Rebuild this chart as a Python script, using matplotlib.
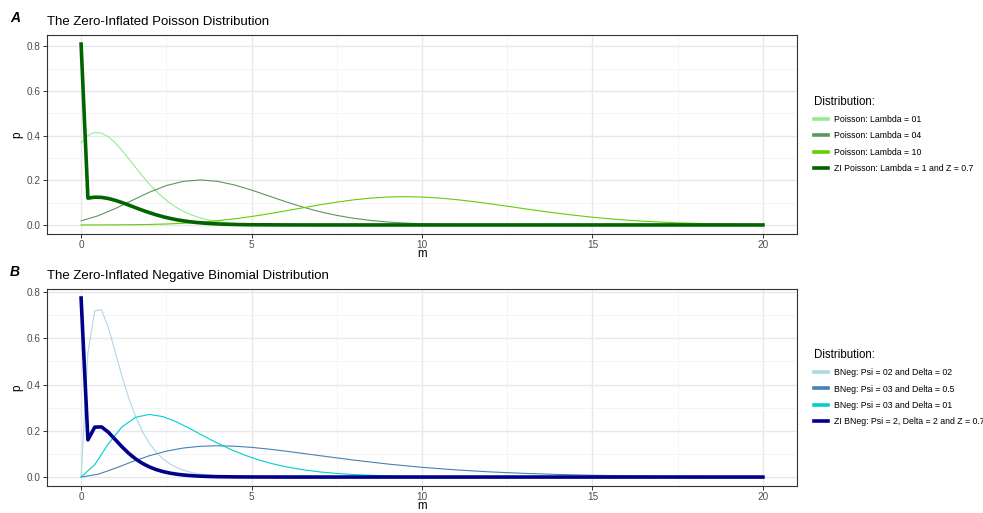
import matplotlib
matplotlib.use("Agg")
import matplotlib.pyplot as plt
from matplotlib.lines import Line2D
from matplotlib.ticker import MultipleLocator

plt.rcParams['font.family'] = ['Liberation Sans', 'DejaVu Sans']

# ---- panel A: Poisson ----
m_fine = [0, 0.2, 0.4, 0.6, 0.8, 1.0, 1.2, 1.4, 1.6, 1.8, 2.0, 2.2, 2.4, 2.6, 2.8,
          3.0, 3.2, 3.4, 3.6, 3.8, 4.0, 4.2, 4.4, 4.6, 4.8, 5, 6, 7, 20]
pois_l1 = [0.3679, 0.4007, 0.4146, 0.4117, 0.3950, 0.3679, 0.3339, 0.2962, 0.2573,
           0.2194, 0.1839, 0.1518, 0.1234, 0.0990, 0.0784, 0.0613, 0.0474, 0.0363,
           0.0275, 0.0206, 0.0153, 0.0113, 0.0082, 0.0060, 0.0043, 0.0031, 0.0005,
           0.0001, 0.0]
zip_l1 = [0.8104, 0.1202, 0.1244, 0.1235, 0.1185, 0.1104, 0.1002, 0.0889, 0.0772,
          0.0658, 0.0552, 0.0455, 0.0370, 0.0297, 0.0235, 0.0184, 0.0142, 0.0109,
          0.0083, 0.0062, 0.0046, 0.0034, 0.0025, 0.0018, 0.0013, 0.0009, 0.0002,
          0.0, 0.0]

m_half = [0, 0.5, 1, 1.5, 2, 2.5, 3, 3.5, 4, 4.5, 5, 5.5, 6, 6.5, 7, 7.5, 8, 8.5,
          9, 9.5, 10, 10.5, 11, 11.5, 12, 12.5, 13, 13.5, 14, 14.5, 15, 15.5, 16,
          16.5, 17, 17.5, 18, 18.5, 19, 19.5, 20]
pois_l4 = [0.0183, 0.0413, 0.0733, 0.1102, 0.1465, 0.1764, 0.1954, 0.2016, 0.1954,
           0.1792, 0.1563, 0.1303, 0.1042, 0.0802, 0.0595, 0.0428, 0.0298, 0.0201,
           0.0132, 0.0085, 0.0053, 0.0033, 0.0019, 0.0011, 0.0006, 0.0004, 0.0002,
           0.0001, 0.0001, 0.0, 0.0, 0.0, 0.0, 0.0, 0.0, 0.0, 0.0, 0.0, 0.0, 0.0, 0.0]
pois_l10 = [0.0000, 0.0002, 0.0005, 0.0011, 0.0023, 0.0043, 0.0076, 0.0123, 0.0189,
            0.0274, 0.0378, 0.0499, 0.0631, 0.0767, 0.0901, 0.1023, 0.1126, 0.1204,
            0.1251, 0.1267, 0.1251, 0.1207, 0.1137, 0.1049, 0.0948, 0.0839, 0.0729,
            0.0622, 0.0521, 0.0429, 0.0347, 0.0277, 0.0217, 0.0168, 0.0128, 0.0096,
            0.0071, 0.0052, 0.0037, 0.0027, 0.0019]

# ---- panel B: negative binomial ----
m_nb = [0, 0.2, 0.4, 0.6, 0.8, 1.0, 1.2, 1.4, 1.6, 1.8, 2.0, 2.2, 2.4, 2.6, 2.8,
        3.0, 3.2, 3.4, 3.6, 3.8, 4.0, 4.5, 5, 6, 20]
nb_2_2 = [0.0, 0.5363, 0.7189, 0.7229, 0.6461, 0.5413, 0.4354, 0.3405, 0.2609,
          0.1967, 0.1465, 0.1080, 0.0790, 0.0574, 0.0414, 0.0297, 0.0213, 0.0151,
          0.0108, 0.0076, 0.0054, 0.0022, 0.0009, 0.0001, 0.0]
zinb = [0.774, 0.1609, 0.2157, 0.2169, 0.1938, 0.1624, 0.1306, 0.1022, 0.0783,
        0.0590, 0.0440, 0.0324, 0.0237, 0.0172, 0.0124, 0.0089, 0.0064, 0.0045,
        0.0032, 0.0023, 0.0016, 0.0007, 0.0003, 0.0, 0.0]

m_nb_3_1 = [0, 0.4, 0.8, 1.2, 1.6, 2.0, 2.4, 2.8, 3.2, 3.6, 4.0, 4.4, 4.8, 5.2,
            5.6, 6.0, 6.5, 7.0, 7.5, 8.0, 9, 10, 11, 12, 14, 20]
nb_3_1 = [0.0, 0.0536, 0.1438, 0.2169, 0.2584, 0.2707, 0.2613, 0.2384, 0.2087,
          0.1771, 0.1465, 0.1188, 0.0948, 0.0746, 0.0580, 0.0446, 0.0318, 0.0223,
          0.0156, 0.0107, 0.0050, 0.0023, 0.0010, 0.0004, 0.0001, 0.0]

m_nb_3_05 = [0, 0.5, 1, 1.5, 2, 2.5, 3, 3.5, 4, 4.5, 5, 5.5, 6, 7, 8, 9, 10, 11,
             12, 13, 14, 15, 16, 17, 18, 19, 20]
nb_3_05 = [0.0, 0.0122, 0.0379, 0.0664, 0.0920, 0.1119, 0.1255, 0.1330, 0.1353,
           0.1334, 0.1283, 0.1209, 0.1120, 0.0925, 0.0733, 0.0562, 0.0421, 0.0309,
           0.0223, 0.0159, 0.0112, 0.0078, 0.0054, 0.0037, 0.0025, 0.0017, 0.0011]

labels_a = ['Poisson: Lambda = 01', 'Poisson: Lambda = 04', 'Poisson: Lambda = 10',
            'ZI Poisson: Lambda = 1 and Z = 0.7']
colors_a = ['#90EE90', '#5E965E', '#66CD00', '#006400']
labels_b = ['BNeg: Psi = 02 and Delta = 02', 'BNeg: Psi = 03 and Delta = 0.5',
            'BNeg: Psi = 03 and Delta = 01', 'ZI BNeg: Psi = 2, Delta = 2 and Z = 0.7']
colors_b = ['#ADD8E6', '#4682B4', '#00CED1', '#00008B']

fig = plt.figure(figsize=(9.83, 5.13), dpi=100)
W, H = 983, 513
axA = fig.add_axes([47 / W, 1 - 234 / H, 750 / W, 199 / H])
axB = fig.add_axes([47 / W, 1 - 486 / H, 750 / W, 197 / H])


def style(ax, ylim):
    ax.set_xlim(-1, 21)
    ax.set_ylim(*ylim)
    ax.xaxis.set_major_locator(MultipleLocator(5))
    ax.xaxis.set_minor_locator(MultipleLocator(2.5))
    ax.yaxis.set_major_locator(MultipleLocator(0.2))
    ax.yaxis.set_minor_locator(MultipleLocator(0.1))
    ax.grid(which='major', color='#E8E8E8', lw=1.0)
    ax.grid(which='minor', color='#F2F2F2', lw=0.6)
    ax.set_axisbelow(True)
    for s in ax.spines.values():
        s.set_color('#333333')
        s.set_linewidth(0.8)
    ax.tick_params(which='major', length=2.7, width=0.7, color='#333333',
                   labelsize=7.2, labelcolor='#4D4D4D', pad=2)
    ax.tick_params(axis='x', which='major', pad=1.5)
    ax.tick_params(which='minor', length=0)
    ax.set_xlabel('m', fontsize=8.3, labelpad=-1)
    ax.set_ylabel('p', fontsize=8.5, labelpad=2)
    ax.yaxis.set_major_formatter(matplotlib.ticker.FormatStrFormatter('%.1f'))


style(axA, (-0.0405, 0.851))
axA.plot(m_fine, pois_l1, color=colors_a[0], lw=0.8)
axA.plot(m_half, pois_l4, color=colors_a[1], lw=0.8)
axA.plot(m_half, pois_l10, color=colors_a[2], lw=0.8)
axA.plot(m_fine, zip_l1, color=colors_a[3], lw=2.6)
axA.set_title('The Zero-Inflated Poisson Distribution', loc='left', fontsize=9.5, pad=7)

style(axB, (-0.0387, 0.813))
axB.plot(m_nb, nb_2_2, color=colors_b[0], lw=0.8)
axB.plot(m_nb_3_05, nb_3_05, color=colors_b[1], lw=0.8)
axB.plot(m_nb_3_1, nb_3_1, color=colors_b[2], lw=0.8)
axB.plot(m_nb, zinb, color=colors_b[3], lw=2.6)
axB.set_title('The Zero-Inflated Negative Binomial Distribution', loc='left', fontsize=9.5, pad=7)

for ax, labels, colors in [(axA, labels_a, colors_a), (axB, labels_b, colors_b)]:
    handles = [Line2D([], [], color=c, lw=2.6) for c in colors]
    ax.legend(handles, labels, title='Distribution:', loc='center left',
              bbox_to_anchor=(1.015, 0.5), frameon=False, fontsize=6.3,
              title_fontsize=8.3, handlelength=1.55, handletextpad=0.65,
              labelspacing=0.85, alignment='left', borderaxespad=0.3)

fig.text(10 / W, 1 - 18 / H, 'A', fontsize=10, fontweight='bold', style='italic', va='center')
fig.text(10 / W, 1 - 272 / H, 'B', fontsize=10, fontweight='bold', style='italic', va='center')

fig.savefig('out.png', dpi=100)
